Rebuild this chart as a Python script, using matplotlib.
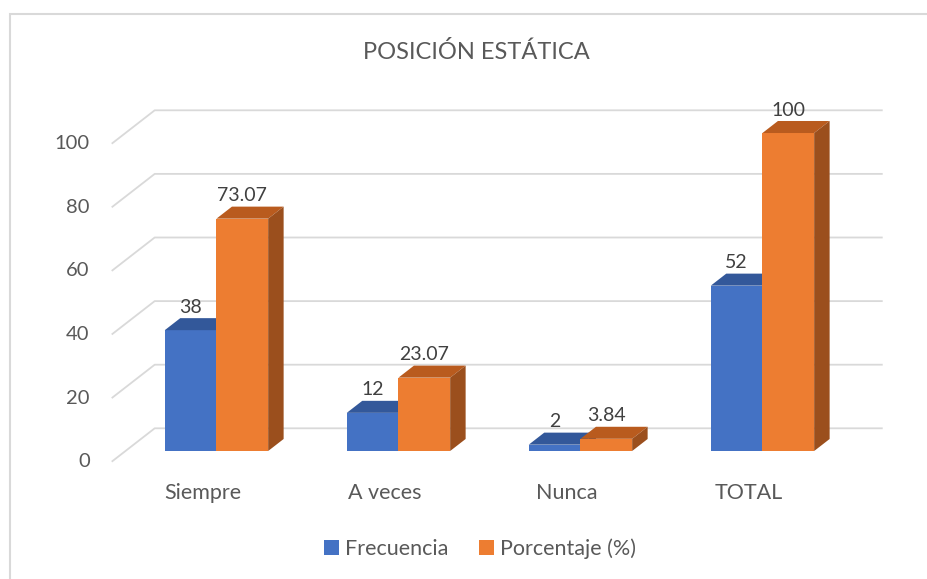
import matplotlib
matplotlib.use('Agg')
import matplotlib.pyplot as plt
from matplotlib.patches import Polygon, Rectangle, Patch

plt.rcParams['font.family'] = ['Lato', 'DejaVu Sans']

# ── Data ──────────────────────────────────────────────────────────────────────
categories = ['Siempre', 'A veces', 'Nunca', 'TOTAL']
frecuencia = [38, 12, 2, 52]
porcentaje = [73.07, 23.07, 3.84, 100]
freq_labels = ['38', '12', '2', '52']
pct_labels = ['73.07', '23.07', '3.84', '100']
yticks = [0, 20, 40, 60, 80, 100]

# ── Style ─────────────────────────────────────────────────────────────────────
BLUE, BLUE_TOP, BLUE_SIDE = '#4472C4', '#33589A', '#2B4C85'
ORANGE, ORANGE_TOP, ORANGE_SIDE = '#ED7D31', '#B95B1E', '#9B4F1D'
GRID = '#D9D9D9'
TXT = '#595959'

W, H = 927, 579
PX_X = 182.0      # pixels per category
PX_Y = 3.18       # pixels per value unit
X0_PX, Y0_PX = 111.7, 461.7   # front-left floor corner (pixels from top-left)
DX = 43 / PX_X    # depth offset in data units
DY = 33.4 / PX_Y
Z0, Z1 = 0.32, 0.68   # bar depth range
BW = 0.284            # bar width (category units)

fig = plt.figure(figsize=(W / 100, H / 100), dpi=100)
ax = fig.add_axes([0, 0, 1, 1])
ax.set_xlim(-X0_PX / PX_X, (W - X0_PX) / PX_X)
ax.set_ylim(-(H - Y0_PX) / PX_Y, Y0_PX / PX_Y)
ax.axis('off')

n = len(categories)

# gridlines (left wall diagonal + back wall)
for v in yticks:
    ax.plot([0, DX, n + DX], [v, v + DY, v + DY], color=GRID, lw=1.3,
            zorder=1, solid_capstyle='butt')


def bar3d(x_left, value, c_front, c_top, c_side, z):
    bx = x_left + Z0 * DX
    by = Z0 * DY
    ddx = (Z1 - Z0) * DX
    ddy = (Z1 - Z0) * DY
    ax.bar(bx, value, width=BW, bottom=by, align='edge', color=c_front,
           edgecolor='none', zorder=z)
    top = [(bx, by + value), (bx + BW, by + value),
           (bx + BW + ddx, by + value + ddy), (bx + ddx, by + value + ddy)]
    side = [(bx + BW, by), (bx + BW + ddx, by + ddy),
            (bx + BW + ddx, by + value + ddy), (bx + BW, by + value)]
    ax.add_patch(Polygon(top, closed=True, facecolor=c_top, edgecolor='none', zorder=z))
    ax.add_patch(Polygon(side, closed=True, facecolor=c_side, edgecolor='none', zorder=z))
    return bx + BW / 2, by + value


for i in range(n):
    c = i + 0.5
    z = 2 + i * 2
    cx, cy = bar3d(c - BW, frecuencia[i], BLUE, BLUE_TOP, BLUE_SIDE, z)
    ax.annotate(freq_labels[i], (cx, cy), xytext=(0, 23), textcoords='offset pixels',
                ha='center', va='center', fontsize=14, color='#404040', zorder=20)
    cx, cy = bar3d(c, porcentaje[i], ORANGE, ORANGE_TOP, ORANGE_SIDE, z + 1)
    ax.annotate(pct_labels[i], (cx, cy), xytext=(0, 23), textcoords='offset pixels',
                ha='center', va='center', fontsize=14, color='#404040', zorder=20)
    ax.annotate(categories[i], (c, 0), xytext=(0, -31), textcoords='offset pixels',
                ha='center', va='center', fontsize=15.5, color=TXT)

# y tick labels
for v in yticks:
    ax.annotate(str(v), (0, v), xytext=(-22, 0), textcoords='offset pixels',
                ha='right', va='center', fontsize=14.5, color=TXT)

# title
fig.text(476 / W, 1 - 52 / H, 'POSICIÓN ESTÁTICA', ha='center', va='center',
         fontsize=17, color=TXT)

# legend
handles = [Patch(facecolor=BLUE, label='Frecuencia'),
           Patch(facecolor=ORANGE, label='Porcentaje (%)')]
leg = fig.legend(handles=handles, loc='center', bbox_to_anchor=(480 / W, 1 - 549 / H),
                 ncol=2, frameon=False, fontsize=15.5, handlelength=0.7, handleheight=0.7,
                 handletextpad=0.3, columnspacing=1.4)
for t in leg.get_texts():
    t.set_color(TXT)

# chart border (top and left visible)
fig.patches.append(Rectangle((10 / W, -0.1), 1.1, 1.1 - 13.5 / H, transform=fig.transFigure,
                             facecolor='none', edgecolor=GRID, lw=1.5))

fig.savefig('out.png', dpi=100)
